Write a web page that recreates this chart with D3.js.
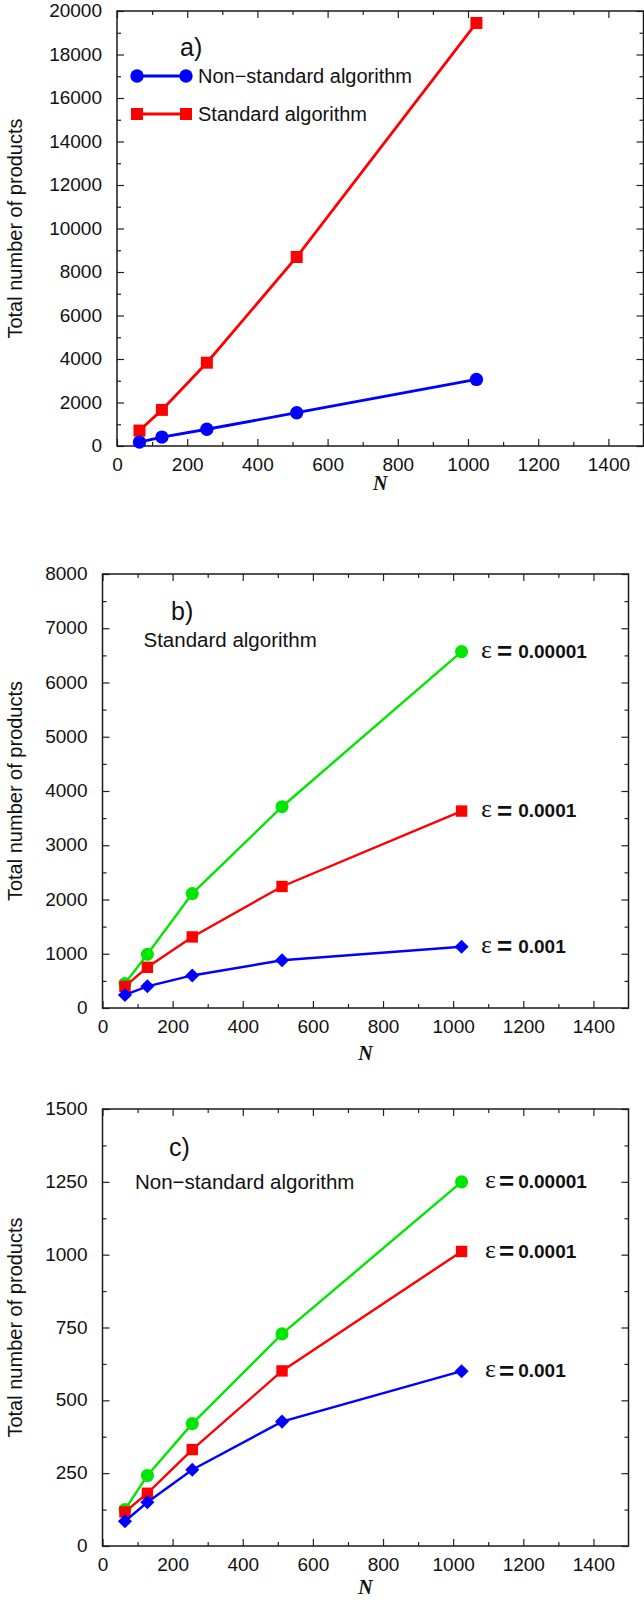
<!DOCTYPE html>
<html>
<head>
<meta charset="utf-8">
<script src="https://cdn.jsdelivr.net/npm/d3@7"></script>
<style>
  body { margin: 0; background: #fff; }
  svg text { font-family: "Liberation Sans", Arial, Helvetica, sans-serif; fill: #111; }
</style>
</head>
<body>
<div id="chart"></div>
<script>
// matrix sizes N (same for every panel)
var sizesN = [64, 128, 256, 512, 1024];
var xTicks = [0, 200, 400, 600, 800, 1000, 1200, 1400];

// a) both algorithms
var aNonStandard = [180, 410, 770, 1530, 3060];
var aStandard = [710, 1660, 3830, 8690, 19450];
var aYTicks = [0, 2000, 4000, 6000, 8000, 10000, 12000, 14000, 16000, 18000, 20000];

// b) standard algorithm, per tolerance
var bEps00001 = [450, 990, 2110, 3710, 6570];
var bEps0001 = [400, 750, 1310, 2240, 3630];
var bEps001 = [240, 400, 600, 880, 1130];
var bYTicks = [0, 1000, 2000, 3000, 4000, 5000, 6000, 7000, 8000];

// c) non-standard algorithm, per tolerance
var cEps00001 = [125, 242, 420, 728, 1250];
var cEps0001 = [117, 181, 331, 601, 1011];
var cEps001 = [85, 150, 262, 427, 600];
var cYTicks = [0, 250, 500, 750, 1000, 1250, 1500];

var epsNames = ['0.00001', '0.0001', '0.001'];

var BLUE = '#0000ff', RED = '#ff0000', GREEN = '#00e600';

// diamond (square turned 45deg), d3.symbolDiamond is too tall
var diamond = {
  draw: function (context, size) {
    var r = Math.sqrt(size) * 0.63;
    context.moveTo(0, -r);
    context.lineTo(r, 0);
    context.lineTo(0, r);
    context.lineTo(-r, 0);
    context.closePath();
  }
};

var svg = d3.select('#chart')
  .append('svg')
  .attr('width', 644)
  .attr('height', 1602);

svg.append('rect').attr('width', 644).attr('height', 1602).attr('fill', '#fff');

function minorOf(ticks) {
  var out = [];
  for (var i = 0; i < ticks.length - 1; i++) {
    out.push((ticks[i] + ticks[i + 1]) / 2);
  }
  return out;
}

function styleAxis(sel, fontSize) {
  sel.select('.domain').remove();
  sel.selectAll('.tick line').attr('stroke', '#222').attr('stroke-width', 1.2);
  sel.selectAll('.tick text')
    .attr('font-size', fontSize)
    .attr('font-family', '"Liberation Sans", Arial, sans-serif')
    .attr('fill', '#111');
  sel.attr('font-family', null).attr('font-size', null);
}

function drawPanel(p) {
  var x = d3.scaleLinear().domain([0, 1500]).range([p.left, p.right]);
  var y = d3.scaleLinear().domain([0, p.yTicks[p.yTicks.length - 1]]).range([p.bottom, p.top]);
  var g = svg.append('g').attr('class', 'panel');

  var xMinor = minorOf(xTicks.concat([1600])).filter(function (d) { return d < 1500; });
  var yMinor = minorOf(p.yTicks);

  // major ticks, inside, on all four sides
  g.append('g')
    .attr('transform', 'translate(0,' + p.bottom + ')')
    .call(d3.axisBottom(x).tickValues(xTicks).tickSizeInner(-7).tickSizeOuter(0)
      .tickPadding(11.5).tickFormat(d3.format('d')))
    .call(styleAxis, 19);
  g.append('g')
    .attr('transform', 'translate(' + p.left + ',0)')
    .call(d3.axisLeft(y).tickValues(p.yTicks).tickSizeInner(-7).tickSizeOuter(0)
      .tickPadding(15).tickFormat(d3.format('d')))
    .call(styleAxis, 19)
    .selectAll('.tick text').attr('dy', '0.29em');
  g.append('g')
    .attr('transform', 'translate(0,' + p.top + ')')
    .call(d3.axisTop(x).tickValues(xTicks).tickSize(-7).tickFormat(''))
    .call(styleAxis, 19);
  g.append('g')
    .attr('transform', 'translate(' + p.right + ',0)')
    .call(d3.axisRight(y).tickValues(p.yTicks).tickSize(-7).tickFormat(''))
    .call(styleAxis, 19);

  // minor ticks
  g.append('g')
    .attr('transform', 'translate(0,' + p.bottom + ')')
    .call(d3.axisBottom(x).tickValues(xMinor).tickSize(-4).tickFormat(''))
    .call(styleAxis, 19);
  g.append('g')
    .attr('transform', 'translate(0,' + p.top + ')')
    .call(d3.axisTop(x).tickValues(xMinor).tickSize(-4).tickFormat(''))
    .call(styleAxis, 19);
  g.append('g')
    .attr('transform', 'translate(' + p.left + ',0)')
    .call(d3.axisLeft(y).tickValues(yMinor).tickSize(-4).tickFormat(''))
    .call(styleAxis, 19);
  g.append('g')
    .attr('transform', 'translate(' + p.right + ',0)')
    .call(d3.axisRight(y).tickValues(yMinor).tickSize(-4).tickFormat(''))
    .call(styleAxis, 19);

  // frame
  g.append('rect')
    .attr('x', p.left).attr('y', p.top)
    .attr('width', p.right - p.left).attr('height', p.bottom - p.top)
    .attr('fill', 'none').attr('stroke', '#1a1a1a').attr('stroke-width', 1.5);

  // axis titles
  g.append('text')
    .attr('transform', 'translate(21.5,' + ((p.top + p.bottom) / 2) + ') rotate(-90)')
    .attr('text-anchor', 'middle')
    .attr('font-size', 20)
    .text('Total number of products');
  g.append('text')
    .attr('x', (p.left + p.right) / 2)
    .attr('y', p.bottom + p.nGap)
    .attr('text-anchor', 'middle')
    .style('font-family', '"Liberation Serif", "Times New Roman", serif')
    .style('font-style', 'italic')
    .style('font-weight', 'bold')
    .attr('font-size', 20)
    .text('N');

  // panel letter and caption
  g.append('text')
    .attr('x', p.tagX).attr('y', p.tagY)
    .attr('font-size', 25)
    .text(p.tag);
  if (p.caption) {
    g.append('text')
      .attr('x', p.captionX).attr('y', p.captionY)
      .attr('font-size', 20.5)
      .text(p.caption);
  }

  var line = d3.line()
    .x(function (d) { return x(d.n); })
    .y(function (d) { return y(d.v); });

  p.series.forEach(function (s) {
    var pts = sizesN.map(function (n, i) { return { n: n, v: s.values[i] }; });
    g.append('path')
      .datum(pts)
      .attr('d', line)
      .attr('fill', 'none')
      .attr('stroke', s.color)
      .attr('stroke-width', p.lineWidth || 2.5);
    g.selectAll(null)
      .data(pts)
      .enter()
      .append('path')
      .attr('transform', function (d) { return 'translate(' + x(d.n) + ',' + y(d.v) + ')'; })
      .attr('d', d3.symbol().type(s.symbol).size(s.size))
      .attr('fill', s.color);

    if (s.eps) {
      var last = pts[pts.length - 1];
      var t = g.append('text')
        .attr('x', x(last.n) + p.labelGap)
        .attr('y', y(last.v))
        .attr('dy', '0.38em');
      t.append('tspan')
        .style('font-family', '"Liberation Serif", "Times New Roman", serif')
        .attr('font-size', 26)
        .text('\u03b5');
      t.append('tspan')
        .attr('dx', p.eqGap)
        .attr('dy', 2.5)
        .attr('font-size', 26)
        .attr('font-weight', 'bold')
        .text('=');
      t.append('tspan')
        .attr('dx', p.eqGap + 1)
        .attr('dy', -2.5)
        .attr('font-size', 19)
        .attr('font-weight', 'bold')
        .text(s.eps);
    }
  });

  return { x: x, y: y, g: g };
}

// a)
var pa = drawPanel({
  left: 117, right: 643.5, top: 11, bottom: 446,
  yTicks: aYTicks, nGap: 44, lineWidth: 2.8,
  tag: 'a)', tagX: 180, tagY: 56,
  series: [
    { values: aStandard, color: RED, symbol: d3.symbolSquare, size: 144 },
    { values: aNonStandard, color: BLUE, symbol: d3.symbolCircle, size: 140 }
  ]
});

// legend for a)
var legendItems = [
  { name: 'Non\u2212standard algorithm', color: BLUE, symbol: d3.symbolCircle, size: 140, y: 76 },
  { name: 'Standard algorithm', color: RED, symbol: d3.symbolSquare, size: 144, y: 114 }
];
var leg = pa.g.append('g').attr('class', 'legend');
legendItems.forEach(function (it) {
  leg.append('line')
    .attr('x1', 137).attr('x2', 186)
    .attr('y1', it.y).attr('y2', it.y)
    .attr('stroke', it.color).attr('stroke-width', 2.8);
  [137, 186].forEach(function (cx) {
    leg.append('path')
      .attr('transform', 'translate(' + cx + ',' + it.y + ')')
      .attr('d', d3.symbol().type(it.symbol).size(it.size))
      .attr('fill', it.color);
  });
  leg.append('text')
    .attr('x', 198).attr('y', it.y + 7)
    .attr('font-size', 20)
    .text(it.name);
});

// b)
drawPanel({
  left: 102.5, right: 628.5, top: 574, bottom: 1008,
  yTicks: bYTicks, nGap: 52, lineWidth: 2.4,
  tag: 'b)', tagX: 171, tagY: 620,
  caption: 'Standard algorithm', captionX: 143.5, captionY: 647,
  labelGap: 19.5, eqGap: 5,
  series: [
    { values: bEps00001, color: GREEN, symbol: d3.symbolCircle, size: 135, eps: epsNames[0] },
    { values: bEps0001, color: RED, symbol: d3.symbolSquare, size: 130, eps: epsNames[1] },
    { values: bEps001, color: BLUE, symbol: diamond, size: 125, eps: epsNames[2] }
  ]
});

// c)
drawPanel({
  left: 102.5, right: 628.5, top: 1109, bottom: 1546,
  yTicks: cYTicks, nGap: 48, lineWidth: 2.4,
  tag: 'c)', tagX: 169, tagY: 1156,
  caption: 'Non\u2212standard algorithm', captionX: 135, captionY: 1189,
  labelGap: 23.5, eqGap: 3,
  series: [
    { values: cEps00001, color: GREEN, symbol: d3.symbolCircle, size: 135, eps: epsNames[0] },
    { values: cEps0001, color: RED, symbol: d3.symbolSquare, size: 130, eps: epsNames[1] },
    { values: cEps001, color: BLUE, symbol: diamond, size: 125, eps: epsNames[2] }
  ]
});
</script>
</body>
</html>
